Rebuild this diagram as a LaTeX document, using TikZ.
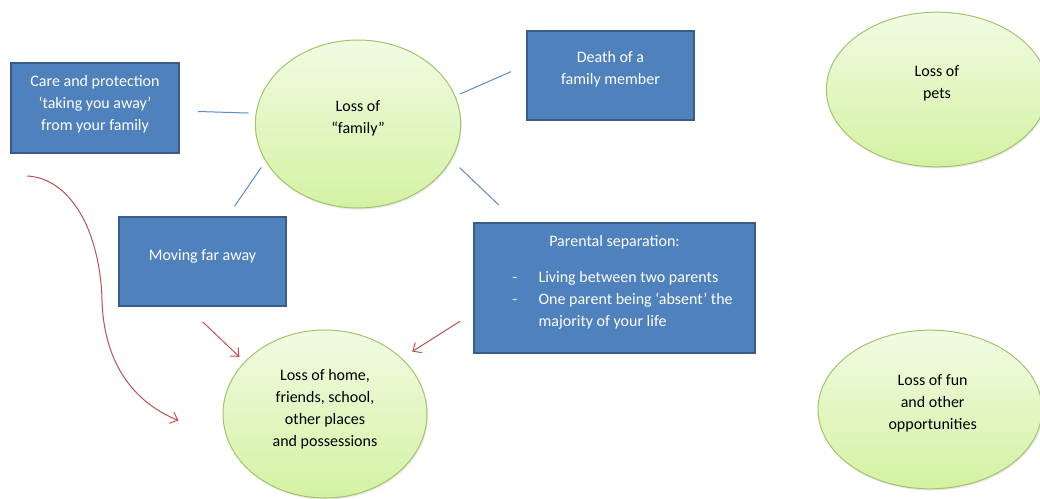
\documentclass[tikz,border=0pt]{standalone}
\usepackage{fontspec}
\setmainfont{Carlito}
\usepackage{tikz}
\usetikzlibrary{arrows.meta, shapes.geometric, shadows}

\definecolor{boxblue}{HTML}{4F81BD}
\definecolor{boxedge}{HTML}{385D8A}
\definecolor{bubbletop}{HTML}{F1FBE3}
\definecolor{bubblebottom}{HTML}{D4F2A2}
\definecolor{bubbleedge}{HTML}{A3C46A}
\definecolor{spokeblue}{HTML}{5B8BC8}
\definecolor{pushred}{HTML}{C0504D}

\tikzset{
    lossbox/.style={draw=boxedge, line width=1.5pt, fill=boxblue,
        minimum width=125.5pt, minimum height=66.5pt},
    boxtext/.style={text=white, align=center, font=\fontsize{12pt}{16.5pt}\selectfont},
    bubble/.style={ellipse, draw=bubbleedge, line width=0.75pt,
        top color=bubbletop, bottom color=bubblebottom,
        drop shadow={opacity=0.18, shadow xshift=0.8pt, shadow yshift=-1.2pt}},
    bubbletext/.style={text=black, align=center, font=\fontsize{12pt}{16.5pt}\selectfont},
    spoke/.style={draw=spokeblue, line width=0.75pt},
    push/.style={draw=pushred, line width=0.75pt, -{Straight Barb[length=5pt, width=9pt]}},
}

\begin{document}
\begin{tikzpicture}[x=0.75pt, y=-0.75pt]
        \useasboundingbox (0,0) rectangle (1040,499);

        \node[bubble, minimum width=154pt, minimum height=126pt] (family) at (358,124) {};
        \node[bubble, minimum width=166pt, minimum height=116pt] (pets) at (937,89.5) {};
        \node[bubble, minimum width=153pt, minimum height=126pt] (home) at (325,414) {};
        \node[bubble, minimum width=168pt, minimum height=119pt] (fun) at (930,409.5) {};

        \node[bubbletext] (familytext) at ([yshift=4.5pt]family.center) {Loss of\\“family”};
        \node[bubbletext] (petstext) at ([yshift=4.9pt]pets.center) {Loss of\\pets};
        \node[bubbletext] (hometext) at ([yshift=3.9pt]home.center)
            {Loss of home,\\friends, school,\\other places\\and possessions};
        \node[bubbletext] (funtext) at ([xshift=2pt, yshift=4.9pt]fun.center)
            {Loss of fun\\and other\\opportunities};

        \node[lossbox, minimum width=126pt, minimum height=67.5pt] (care) at (95,108) {};
        \node[lossbox] (death) at (610.5,75.5) {};
        \node[lossbox] (moving) at (202.5,261.5) {};
        \node[lossbox, minimum width=210.5pt, minimum height=97.5pt] (parental) at (614.5,288) {};

        \node[boxtext] (caretext) at ([yshift=2.5pt]care.center)
            {Care and protection\\‘taking you away’\\from your family};
        \node[boxtext] (deathtext) at ([yshift=4.9pt]death.center) {Death of a\\family member};
        \node[boxtext] (movingtext) at ([yshift=4.1pt]moving.center) {Moving far away};
        \node[boxtext] (parentaltext) at ([yshift=3pt]parental.center)
            {Parental separation:\\[12.25pt]\hspace*{12pt}%
            \begin{tabular}{@{}l@{\hspace{16pt}}l@{}}
                - & Living between two parents\\
                - & One parent being ‘absent’ the\\
                  & majority of your life
            \end{tabular}};

        \coordinate (curvestart) at ([shift={(17,22)}]care.south west);

        \draw[spoke]
            (family.174) edge[shorten <=5.3pt, shorten >=13.5pt] (care.-2)
            (family.16) edge[shorten <=4pt, shorten >=12.2pt] (death.173)
            (family.-21) edge[shorten <=8.4pt, shorten >=18.6pt] (parental.146)
            (family.202) edge[shorten <=5.5pt, shorten >=9.2pt] (moving.61);

        \draw[push, shorten <=16.4pt, shorten >=5.3pt] (moving.-109) -- (home.147);
        \draw[push, shorten <=11.5pt, shorten >=9.2pt] (parental.190) -- (home.36);
        \draw[push, shorten >=39.6pt] (curvestart)
            .. controls (70,178) and (100,230) .. (102,300)
            .. controls (104,370) and (140,405) .. (home.195);
    \end{tikzpicture}
\end{document}
